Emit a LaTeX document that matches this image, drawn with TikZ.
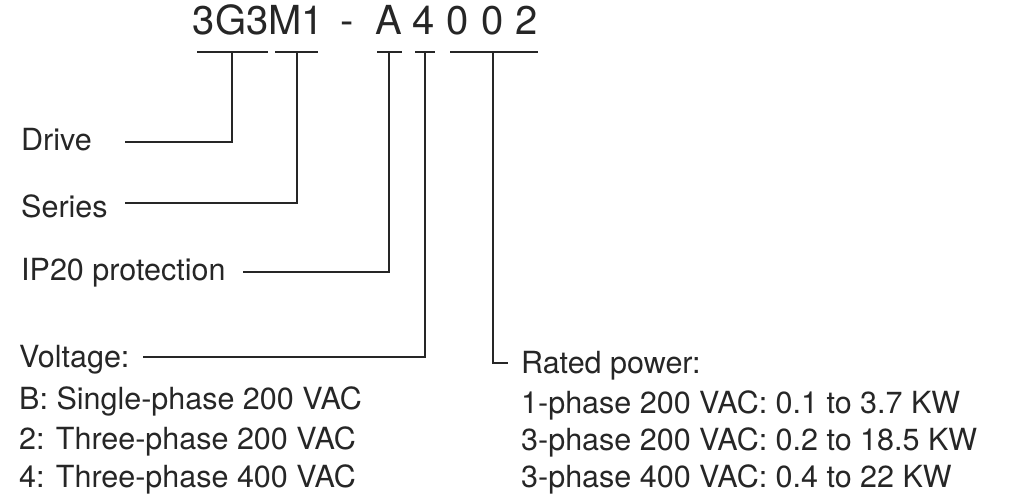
\documentclass[tikz,border=0pt]{standalone}
\usepackage{fontspec}
\setmainfont{TeX Gyre Heros}
\begin{document}
\begin{tikzpicture}[x=1pt,y=-1pt,
  ln/.style={line width=1.8pt,color=black!85},
  lbl/.style={anchor=base west,inner sep=0pt,font=\fontsize{30.5}{36}\selectfont,text=black!85},
  code/.style={anchor=base,inner sep=0pt,font=\fontsize{40}{46}\selectfont,text=black!85}]
\useasboundingbox (0,0) rectangle (1011,497);
% model code
\node[code] (c1) at (258.5,35) {3G3M1};
\node[code] (c2) at (347,35) {-};
\node[code] (c3) at (389,35) {A};
\node[code] (c4) at (424,35) {4};
\node[code] (c5) at (457.5,35) {0};
\node[code] (c6) at (492.5,35) {0};
\node[code] (c7) at (527,35) {2};
% underlines
\coordinate (u1a) at (197,52); \coordinate (u1b) at (268,52); \coordinate (t1) at (232,52);
\coordinate (u2a) at (275,52); \coordinate (u2b) at (318,52); \coordinate (t2) at (297,52);
\coordinate (u3a) at (377,52); \coordinate (u3b) at (402,52); \coordinate (t3) at (389,52);
\coordinate (u4a) at (415,52); \coordinate (u4b) at (435,52); \coordinate (t4) at (425,52);
\coordinate (u5a) at (450,52); \coordinate (u5b) at (538,52); \coordinate (t5) at (493,52);
\draw[ln] (u1a) -- (u1b);
\draw[ln] (u2a) -- (u2b);
\draw[ln] (u3a) -- (u3b);
\draw[ln] (u4a) -- (u4b);
\draw[ln] (u5a) -- (u5b);
% labels
\node[lbl] (drive) at (21,151) {Drive};
\node[lbl] (series) at (21,217) {Series};
\node[lbl] (ip) at (21,280) {IP20 protection};
\node[lbl] (volt) at (19,367) {Voltage:};
\node[lbl] (v1) at (19,409) {B: Single-phase 200 VAC};
\node[lbl] (v2) at (19,449) {2: Three-phase 200 VAC};
\node[lbl] (v3) at (19,487) {4: Three-phase 400 VAC};
\node[lbl] (rated) at (521,373) {Rated power:};
\node[lbl] (r1) at (521,413) {1-phase 200 VAC: 0.1 to 3.7 KW};
\node[lbl] (r2) at (521,450) {3-phase 200 VAC: 0.2 to 18.5 KW};
\node[lbl] (r3) at (521,487) {3-phase 400 VAC: 0.4 to 22 KW};
% connector ends
\coordinate (e1) at (125,142);
\coordinate (e2) at (125,203);
\coordinate (e3) at (243,272);
\coordinate (e4) at (143,357);
\coordinate (e5) at (508,363);
\draw[ln] (t1) |- (e1);
\draw[ln] (t2) |- (e2);
\draw[ln] (t3) |- (e3);
\draw[ln] (t4) |- (e4);
\draw[ln] (t5) |- (e5);
\end{tikzpicture}
\end{document}
